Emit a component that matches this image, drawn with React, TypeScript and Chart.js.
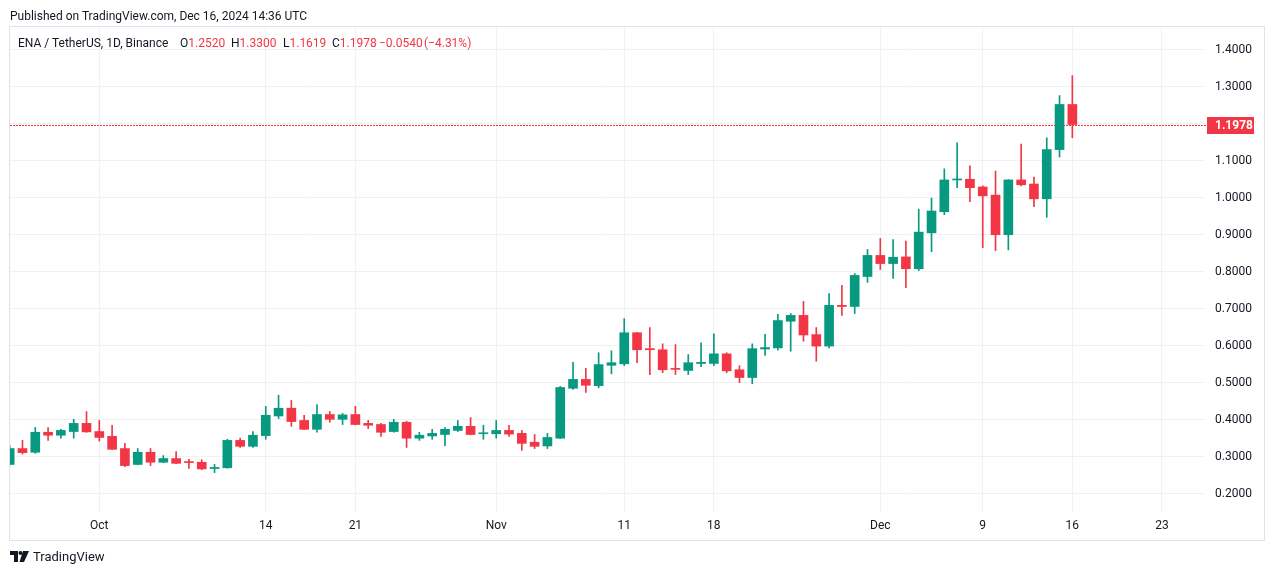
import React, { useEffect, useRef } from "react";
import { Chart, registerables } from "chart.js";

Chart.register(...registerables);

// ---- data (ENA / TetherUS, 1D, Binance) ----
const dates = [
  "2024-09-24","2024-09-25","2024-09-26","2024-09-27","2024-09-28","2024-09-29","2024-09-30",
  "2024-10-01","2024-10-02","2024-10-03","2024-10-04","2024-10-05","2024-10-06","2024-10-07",
  "2024-10-08","2024-10-09","2024-10-10","2024-10-11","2024-10-12","2024-10-13","2024-10-14",
  "2024-10-15","2024-10-16","2024-10-17","2024-10-18","2024-10-19","2024-10-20","2024-10-21",
  "2024-10-22","2024-10-23","2024-10-24","2024-10-25","2024-10-26","2024-10-27","2024-10-28",
  "2024-10-29","2024-10-30","2024-10-31","2024-11-01","2024-11-02","2024-11-03","2024-11-04",
  "2024-11-05","2024-11-06","2024-11-07","2024-11-08","2024-11-09","2024-11-10","2024-11-11",
  "2024-11-12","2024-11-13","2024-11-14","2024-11-15","2024-11-16","2024-11-17","2024-11-18",
  "2024-11-19","2024-11-20","2024-11-21","2024-11-22","2024-11-23","2024-11-24","2024-11-25",
  "2024-11-26","2024-11-27","2024-11-28","2024-11-29","2024-11-30","2024-12-01","2024-12-02",
  "2024-12-03","2024-12-04","2024-12-05","2024-12-06","2024-12-07","2024-12-08","2024-12-09",
  "2024-12-10","2024-12-11","2024-12-12","2024-12-13","2024-12-14","2024-12-15","2024-12-16",
];

const opens = [
  0.279,0.322,0.312,0.366,0.358,0.368,0.390,
  0.368,0.355,0.322,0.279,0.312,0.285,0.295,
  0.286,0.285,0.268,0.270,0.344,0.328,0.357,
  0.410,0.431,0.398,0.374,0.414,0.401,0.414,
  0.390,0.387,0.368,0.393,0.350,0.356,0.360,
  0.371,0.382,0.362,0.362,0.371,0.363,0.339,
  0.329,0.350,0.485,0.509,0.492,0.547,0.551,
  0.635,0.592,0.589,0.538,0.533,0.552,0.552,
  0.578,0.535,0.514,0.591,0.594,0.666,0.682,
  0.630,0.599,0.709,0.706,0.787,0.844,0.822,
  0.840,0.808,0.905,0.962,1.048,1.050,1.029,
  1.007,0.900,1.048,1.037,0.997,1.130,1.2520,
];

const highs = [
  0.330,0.344,0.379,0.379,0.374,0.401,0.422,
  0.398,0.385,0.336,0.322,0.322,0.303,0.314,
  0.293,0.292,0.279,0.347,0.350,0.368,0.436,
  0.466,0.452,0.412,0.441,0.422,0.417,0.436,
  0.398,0.390,0.401,0.396,0.366,0.374,0.379,
  0.398,0.406,0.385,0.398,0.385,0.371,0.360,
  0.363,0.490,0.555,0.539,0.581,0.586,0.673,
  0.636,0.649,0.605,0.603,0.576,0.608,0.632,
  0.581,0.546,0.605,0.631,0.685,0.687,0.720,
  0.649,0.741,0.763,0.795,0.860,0.890,0.887,
  0.883,0.969,0.999,1.078,1.148,1.086,1.032,
  1.072,1.049,1.145,1.056,1.162,1.276,1.3300,
];

const lows = [
  0.277,0.307,0.309,0.344,0.350,0.350,0.366,
  0.342,0.319,0.273,0.278,0.276,0.284,0.281,
  0.268,0.265,0.257,0.269,0.325,0.325,0.347,
  0.403,0.382,0.373,0.366,0.393,0.387,0.386,
  0.376,0.355,0.366,0.325,0.344,0.347,0.330,
  0.368,0.359,0.347,0.350,0.355,0.317,0.322,
  0.322,0.349,0.482,0.474,0.486,0.524,0.546,
  0.554,0.522,0.527,0.522,0.522,0.543,0.546,
  0.527,0.500,0.497,0.574,0.588,0.585,0.612,
  0.558,0.594,0.682,0.687,0.771,0.806,0.782,
  0.757,0.803,0.854,0.954,1.027,0.989,0.865,
  0.857,0.859,1.032,0.976,0.947,1.110,1.1619,
];

const closes = [
  0.322,0.311,0.366,0.358,0.371,0.390,0.367,
  0.352,0.320,0.276,0.312,0.285,0.295,0.282,
  0.284,0.267,0.271,0.344,0.328,0.358,0.412,
  0.431,0.395,0.374,0.414,0.401,0.413,0.387,
  0.385,0.366,0.393,0.350,0.358,0.363,0.374,
  0.382,0.360,0.364,0.371,0.361,0.336,0.328,
  0.352,0.487,0.509,0.493,0.549,0.554,0.635,
  0.589,0.589,0.535,0.536,0.554,0.555,0.578,
  0.532,0.514,0.592,0.595,0.668,0.682,0.629,
  0.599,0.709,0.706,0.790,0.844,0.822,0.839,
  0.808,0.907,0.964,1.048,1.050,1.027,1.005,
  0.900,1.048,1.035,0.997,1.130,1.252,1.1978,
];

const timeTickDates = [
  "2024-10-01","2024-10-14","2024-10-21","2024-11-01","2024-11-11",
  "2024-11-18","2024-12-01","2024-12-09","2024-12-16","2024-12-23",
];
const timeTickLabels = ["Oct","14","21","Nov","11","18","Dec","9","16","23"];
const priceTicks = [0.2,0.3,0.4,0.5,0.6,0.7,0.8,0.9,1.0,1.1,1.2,1.3,1.4];

const headerText = "Published on TradingView.com, Dec 16, 2024 14:36 UTC";
const symbolText = "ENA / TetherUS, 1D, Binance";
const lastChange = "\u22120.0540";
const lastChangePct = "(\u22124.31%)";

// ---- styles ----
const UP = "#089981";
const DOWN = "#F23645";
const TEXT = "#131722";
const GRID = "#F0F1F3";
const FRAME = "#E0E3EB";
const FONT = "Roboto, 'Noto Sans', sans-serif";

const DAY_MS = 86400000;
const t0 = Date.parse(dates[0] + "T00:00:00Z");
const dayIndex = (d: string) => Math.round((Date.parse(d + "T00:00:00Z") - t0) / DAY_MS);

export default function App() {
  const canvasRef = useRef<HTMLCanvasElement | null>(null);

  useEffect(() => {
    if (!canvasRef.current) return;
    const xs = dates.map(dayIndex);
    const tickXs = timeTickDates.map(dayIndex);
    const colors = opens.map((o, i) => (closes[i] >= o ? UP : DOWN));
    const lastIdx = closes.length - 1;
    const lastClose = closes[lastIdx];
    const lastColor = closes[lastIdx] >= opens[lastIdx] ? UP : DOWN;

    const lastPricePlugin = {
      id: "lastPrice",
      beforeDatasetsDraw(chart: any) {
        const { ctx, chartArea, scales } = chart;
        const y = Math.round(scales.y.getPixelForValue(lastClose));
        ctx.save();
        ctx.fillStyle = lastColor;
        for (let x = Math.round(chartArea.left); x < chartArea.right; x += 3) {
          ctx.fillRect(x, y, 2, 1);
        }
        ctx.restore();
      },
      afterDraw(chart: any) {
        const { ctx, chartArea, scales } = chart;
        const y = Math.round(scales.y.getPixelForValue(lastClose));
        ctx.save();
        ctx.fillStyle = lastColor;
        ctx.fillRect(chartArea.right + 2, y - 8, 47, 17);
        ctx.fillStyle = "#ffffff";
        ctx.font = `bold 12px ${FONT}`;
        ctx.textAlign = "left";
        ctx.textBaseline = "middle";
        ctx.fillText(lastClose.toFixed(4), chartArea.right + 10, y + 0.5);
        ctx.restore();
      },
    };

    const chart = new Chart(canvasRef.current, {
      type: "bar",
      data: {
        datasets: [
          {
            label: "wick",
            data: xs.map((x, i) => ({ x, y: [lows[i], highs[i]] })) as any,
            backgroundColor: colors,
            barThickness: 1,
            grouped: false,
            minBarLength: 1,
          },
          {
            label: "body",
            data: xs.map((x, i) => ({ x, y: [opens[i], closes[i]] })) as any,
            backgroundColor: colors,
            barThickness: 9,
            grouped: false,
            minBarLength: 1,
          },
        ],
      },
      options: {
        responsive: false,
        animation: false,
        devicePixelRatio: 1,
        events: [],
        layout: { padding: { left: 10, top: 27, right: 9, bottom: 35 } },
        plugins: { legend: { display: false }, tooltip: { enabled: false } },
        scales: {
          x: {
            type: "linear",
            min: 0.025,
            max: 93.36,
            offset: false,
            grid: { color: GRID, drawTicks: false, offset: false },
            border: { display: false },
            ticks: {
              autoSkip: false,
              maxRotation: 0,
              padding: 7,
              color: TEXT,
              font: { family: FONT, size: 12 },
              callback: (v: any) => {
                const k = tickXs.indexOf(Number(v));
                return k >= 0 ? timeTickLabels[k] : "";
              },
            },
            afterBuildTicks: (s: any) => {
              s.ticks = tickXs.map((v) => ({ value: v }));
            },
            afterFit: (s: any) => {
              s.height = 28;
            },
          },
          y: {
            type: "linear",
            position: "right",
            min: 0.1505,
            max: 1.4614,
            grid: { color: GRID, drawTicks: false },
            border: { display: false },
            ticks: {
              padding: 10,
              color: TEXT,
              font: { family: FONT, size: 12 },
              callback: (v: any) => Number(v).toFixed(4),
            },
            afterBuildTicks: (s: any) => {
              s.ticks = priceTicks.map((v) => ({ value: v }));
            },
            afterFit: (s: any) => {
              s.width = 60;
            },
          },
        },
      } as any,
      plugins: [lastPricePlugin],
    });
    return () => chart.destroy();
  }, []);

  const textBase: React.CSSProperties = {
    position: "absolute",
    fontFamily: FONT,
    fontSize: 12,
    lineHeight: "16px",
    whiteSpace: "nowrap",
    color: TEXT,
  };

  const n = closes.length - 1;

  return (
    <div style={{ position: "fixed", left: 0, top: 0, width: 1274, height: 575, background: "#fff", overflow: "hidden" }}>
      <canvas ref={canvasRef} width={1274} height={575} style={{ position: "absolute", left: 0, top: 0, width: 1274, height: 575 }} />
      <div style={{ position: "absolute", left: 9, top: 26, width: 1256, height: 515, border: `1px solid ${FRAME}`, boxSizing: "border-box", pointerEvents: "none" }} />
      <div style={{ ...textBase, left: 10, top: 8 }}>{headerText}</div>
      <div style={{ ...textBase, left: 18, top: 35 }}>{symbolText}</div>
      <div style={{ ...textBase, left: 180, top: 35 }}>O<span style={{ color: DOWN }}>{opens[n].toFixed(4)}</span></div>
      <div style={{ ...textBase, left: 231, top: 35 }}>H<span style={{ color: DOWN }}>{highs[n].toFixed(4)}</span></div>
      <div style={{ ...textBase, left: 283, top: 35 }}>L<span style={{ color: DOWN }}>{lows[n].toFixed(4)}</span></div>
      <div style={{ ...textBase, left: 332, top: 35 }}>C<span style={{ color: DOWN }}>{closes[n].toFixed(4)}</span></div>
      <div style={{ ...textBase, left: 379, top: 35, color: DOWN }}>{lastChange}</div>
      <div style={{ ...textBase, left: 424, top: 35, color: DOWN }}>{lastChangePct}</div>
      <svg width="19" height="12" viewBox="0 0 19 12" style={{ position: "absolute", left: 10, top: 551 }}>
        <path d="M0 0 H8 V11 H4 V4 H0 Z" fill={TEXT} />
        <circle cx="10.5" cy="2" r="2" fill={TEXT} />
        <path d="M13 0 H19 L14 11 H9.5 Z" fill={TEXT} />
      </svg>
      <div style={{ ...textBase, left: 33, top: 549, fontSize: 13 }}>TradingView</div>
    </div>
  );
}
